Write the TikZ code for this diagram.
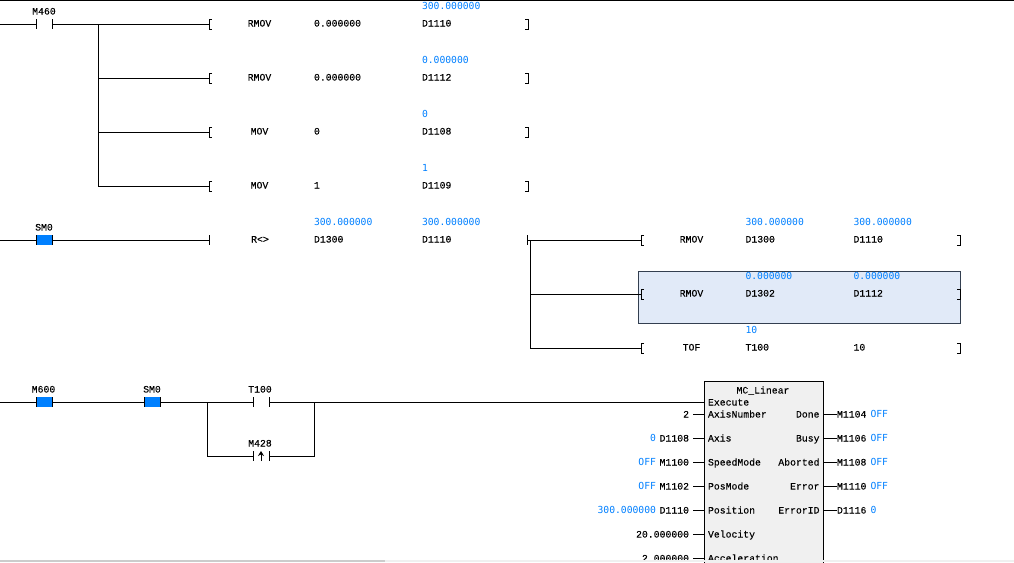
\documentclass[tikz,border=0pt]{standalone}
\usepackage{fontspec}
\setmainfont{Liberation Mono}
\newfontfamily\lblfont[RawFeature={embolden=0.15}]{Liberation Mono}
\newfontfamily\valfont{DejaVu Sans Mono}
\usetikzlibrary{arrows.meta,calc,positioning}
\definecolor{valblue}{HTML}{0080FF}
\definecolor{rowfill}{HTML}{E1EAF8}
\definecolor{rowedge}{HTML}{333F50}
\tikzset{
	txtbase/.style={inner sep=0, outer sep=0, text height=7pt, text depth=0pt},
	plainlbl/.style={txtbase, anchor=west, font=\lblfont\fontsize{9.8}{10}\selectfont},
	rightlbl/.style={txtbase, anchor=east, font=\lblfont\fontsize{9.8}{10}\selectfont},
	midlbl/.style={txtbase, anchor=center, font=\lblfont\fontsize{9.8}{10}\selectfont},
	bluelbl/.style={txtbase, anchor=west, text=valblue, font=\valfont\fontsize{9.7}{10}\selectfont},
	blueright/.style={txtbase, anchor=east, text=valblue, font=\valfont\fontsize{9.7}{10}\selectfont},
	gapnode/.style={inner sep=0, outer sep=0, minimum width=16pt, minimum height=10pt},
	onblock/.style={gapnode, fill=valblue},
	brnode/.style={inner sep=0, outer sep=0, minimum width=3pt, minimum height=10pt},
	wire/.style={line width=0.9pt, black},
}
\begin{document}
\begin{tikzpicture}[x=1pt, y=-1pt]
	\useasboundingbox (0,0) rectangle (1014,562);
	\clip (0,0) rectangle (1014,562);
	\fill[white] (0,0) rectangle (1014,562);
	\fill[black] (0,0) rectangle (1014,1);
	%%%%% highlighted row
	\filldraw[fill=rowfill, draw=rowedge, line width=0.9pt] (638.5,271) rectangle (960.5,323);
	%%%%% contacts
	\foreach \n/\x/\y in {ct460/44/24, ct100/261/402, ct428/261/456} {
		\node[gapnode] (\n) at (\x,\y) {};
		\draw[wire] (\n.north west) -- (\n.south west);
		\draw[wire] (\n.north east) -- (\n.south east);
	}
	\foreach \n/\x/\y in {sm0a/44/240, m600/44/402, sm0b/152/402} {
		\node[onblock] (\n) at (\x,\y) {};
		\draw[wire] (\n.north west) -- (\n.south west);
		\draw[wire] (\n.north east) -- (\n.south east);
	}
	%%%%% brackets
	\foreach \n/\x/\y in {oa/209/24, ob/209/78, oc/209/132, od/209/186, oe/641/240, of/641/294, og/641/348} {
		\node[brnode, anchor=west] (\n) at (\x,\y) {};
		\draw[wire] (\n.north east) -- (\n.north west) -- (\n.south west) -- (\n.south east);
	}
	\foreach \n/\x/\y in {ca/528/24, cb/528/78, cc/528/132, cd/528/186, ce/960/240, cf/960/294, cg/960/348} {
		\node[brnode, anchor=east] (\n) at (\x,\y) {};
		\draw[wire] (\n.north west) -- (\n.north east) -- (\n.south east) -- (\n.south west);
	}
	%%%%% first rung
	\coordinate (lefta) at (0,24);
	\coordinate (busa) at (98.5,24);
	\draw[wire] (lefta) -- (ct460.west);
	\draw[wire] (ct460.east) -- (oa.west);
	\draw[wire] (busa) -- (busa |- od.west) -- (od.west);
	\draw[wire] (busa |- ob.west) -- (ob.west);
	\draw[wire] (busa |- oc.west) -- (oc.west);
	\node[midlbl] (l460) at (44,11) {M460};
	\foreach \n/\cmd/\arg/\dst/\val/\y in {ra/RMOV/0.000000/D1110/300.000000/23, rb/RMOV/0.000000/D1112/0.000000/77, rc/MOV/0/D1108/0/131, rd/MOV/1/D1109/1/185} {
		\node[midlbl] (\n cmd) at (259.5,\y) {\cmd};
		\node[plainlbl] (\n arg) at (314,\y) {\arg};
		\node[plainlbl] (\n dst) at (422,\y) {\dst};
		\node[bluelbl] (\n val) at (422,\y-17) {\val};
	}
	%%%%% second rung
	\coordinate (leftb) at (0,240);
	\node[brnode, minimum width=0pt] (tickl) at (209.5,240) {};
	\node[brnode, minimum width=0pt] (tickr) at (527,240) {};
	\coordinate (busb) at (530.5,240);
	\draw[wire] (leftb) -- (sm0a.west);
	\draw[wire] (sm0a.east) -- (tickl.center);
	\draw[wire] (tickl.north) -- (tickl.south);
	\draw[wire] (tickr.north) -- (tickr.south);
	\draw[wire] (tickr.center) -- (oe.west);
	\draw[wire] (busb) -- (busb |- og.west) -- (og.west);
	\draw[wire] (busb |- of.west) -- (of.west);
	\node[midlbl] (lsm0a) at (44,227) {SM0};
	\node[midlbl] (rcmp) at (260,239) {R<>};
	\node[plainlbl] (cmpa) at (314,239) {D1300};
	\node[plainlbl] (cmpb) at (422,239) {D1110};
	\node[bluelbl] (cmpav) at (314,222) {300.000000};
	\node[bluelbl] (cmpbv) at (422,222) {300.000000};
	\foreach \n/\cmd/\arg/\dst/\vala/\valb/\y in {re/RMOV/D1300/D1110/300.000000/300.000000/239, rf/RMOV/D1302/D1112/0.000000/0.000000/293} {
		\node[midlbl] (\n cmd) at (691.5,\y) {\cmd};
		\node[plainlbl] (\n arg) at (745.5,\y) {\arg};
		\node[plainlbl] (\n dst) at (853.5,\y) {\dst};
		\node[bluelbl] (\n vala) at (745.5,\y-17) {\vala};
		\node[bluelbl] (\n valb) at (853.5,\y-17) {\valb};
	}
	\node[midlbl] (rgcmd) at (691.5,347) {TOF};
	\node[plainlbl] (rgarg) at (745.5,347) {T100};
	\node[plainlbl] (rgdst) at (853.5,347) {10};
	\node[bluelbl] (rgval) at (745.5,330) {10};
	%%%%% third rung
	\node[inner sep=0, outer sep=0, minimum width=119.5pt, minimum height=200pt, anchor=north west, fill=black!6, draw=black, line width=0.9pt] (fb) at (704,381) {};
	\coordinate (leftc) at (0,402);
	\coordinate (busc) at (207,402);
	\coordinate (busd) at (314.5,402);
	\draw[wire] (leftc) -- (m600.west);
	\draw[wire] (m600.east) -- (sm0b.west);
	\draw[wire] (sm0b.east) -- (ct100.west);
	\draw[wire] (ct100.east) -- (ct100.east -| fb.west);
	\draw[wire] (busc) -- (busc |- ct428.west) -- (ct428.west);
	\draw[wire] (ct428.east) -- (busd |- ct428.east) -- (busd);
	\coordinate (upa) at (261,461);
	\coordinate (upb) at (261,451);
	\draw[wire, -{Stealth[length=5pt,width=6pt]}] (upa) -- (upb);
	\node[midlbl] (lm600) at (43.5,389) {M600};
	\node[midlbl] (lsm0b) at (152,389) {SM0};
	\node[midlbl] (lt100) at (260,389) {T100};
	\node[midlbl] (lm428) at (260,443) {M428};
	%%%%% function block
	\node[midlbl] (fbname) at (763,390) {MC\_Linear};
	\node[plainlbl] (fbexec) at (708,402) {Execute};
	\foreach \n/\name/\y in {pa/AxisNumber/414, pb/Axis/438, pc/SpeedMode/462, pd/PosMode/486, pe/Position/510, pf/Velocity/534, pg/Acceleration/558} {
		\node[plainlbl] (\n) at (708,\y) {\name};
		\coordinate (\n end) at (693,\y);
		\draw[wire] (\n end) -- (\n end -| fb.west);
	}
	\node[rightlbl] (pav) at (689,414) {2};
	\node[rightlbl] (pbv) at (689,438) {D1108};
	\node[rightlbl] (pcv) at (689,462) {M1100};
	\node[rightlbl] (pdv) at (689,486) {M1102};
	\node[rightlbl] (pev) at (689,510) {D1110};
	\node[rightlbl] (pfv) at (689,534) {20.000000};
	\node[rightlbl] (pgv) at (689,558) {2.000000};
	\node[blueright] (pbs) at (656,438) {0};
	\node[blueright] (pcs) at (656,462) {OFF};
	\node[blueright] (pds) at (656,486) {OFF};
	\node[blueright] (pes) at (656,510) {300.000000};
	\foreach \n/\name/\dst/\val/\y in {qa/Done/M1104/OFF/414, qb/Busy/M1106/OFF/438, qc/Aborted/M1108/OFF/462, qd/Error/M1110/OFF/486, qe/ErrorID/D1116/0/510} {
		\node[rightlbl] (\n) at (819.5,\y) {\name};
		\node[plainlbl] (\n dst) at (837,\y) {\dst};
		\node[bluelbl] (\n val) at (870.5,\y) {\val};
		\draw[wire] (\n dst.west) -- (\n dst.west -| fb.east);
	}
	%%%%% scroll bar
	\fill[black!6] (0,560) rectangle (1014,562);
	\fill[black!20] (0,560) rectangle (385,562);
\end{tikzpicture}
\end{document}
